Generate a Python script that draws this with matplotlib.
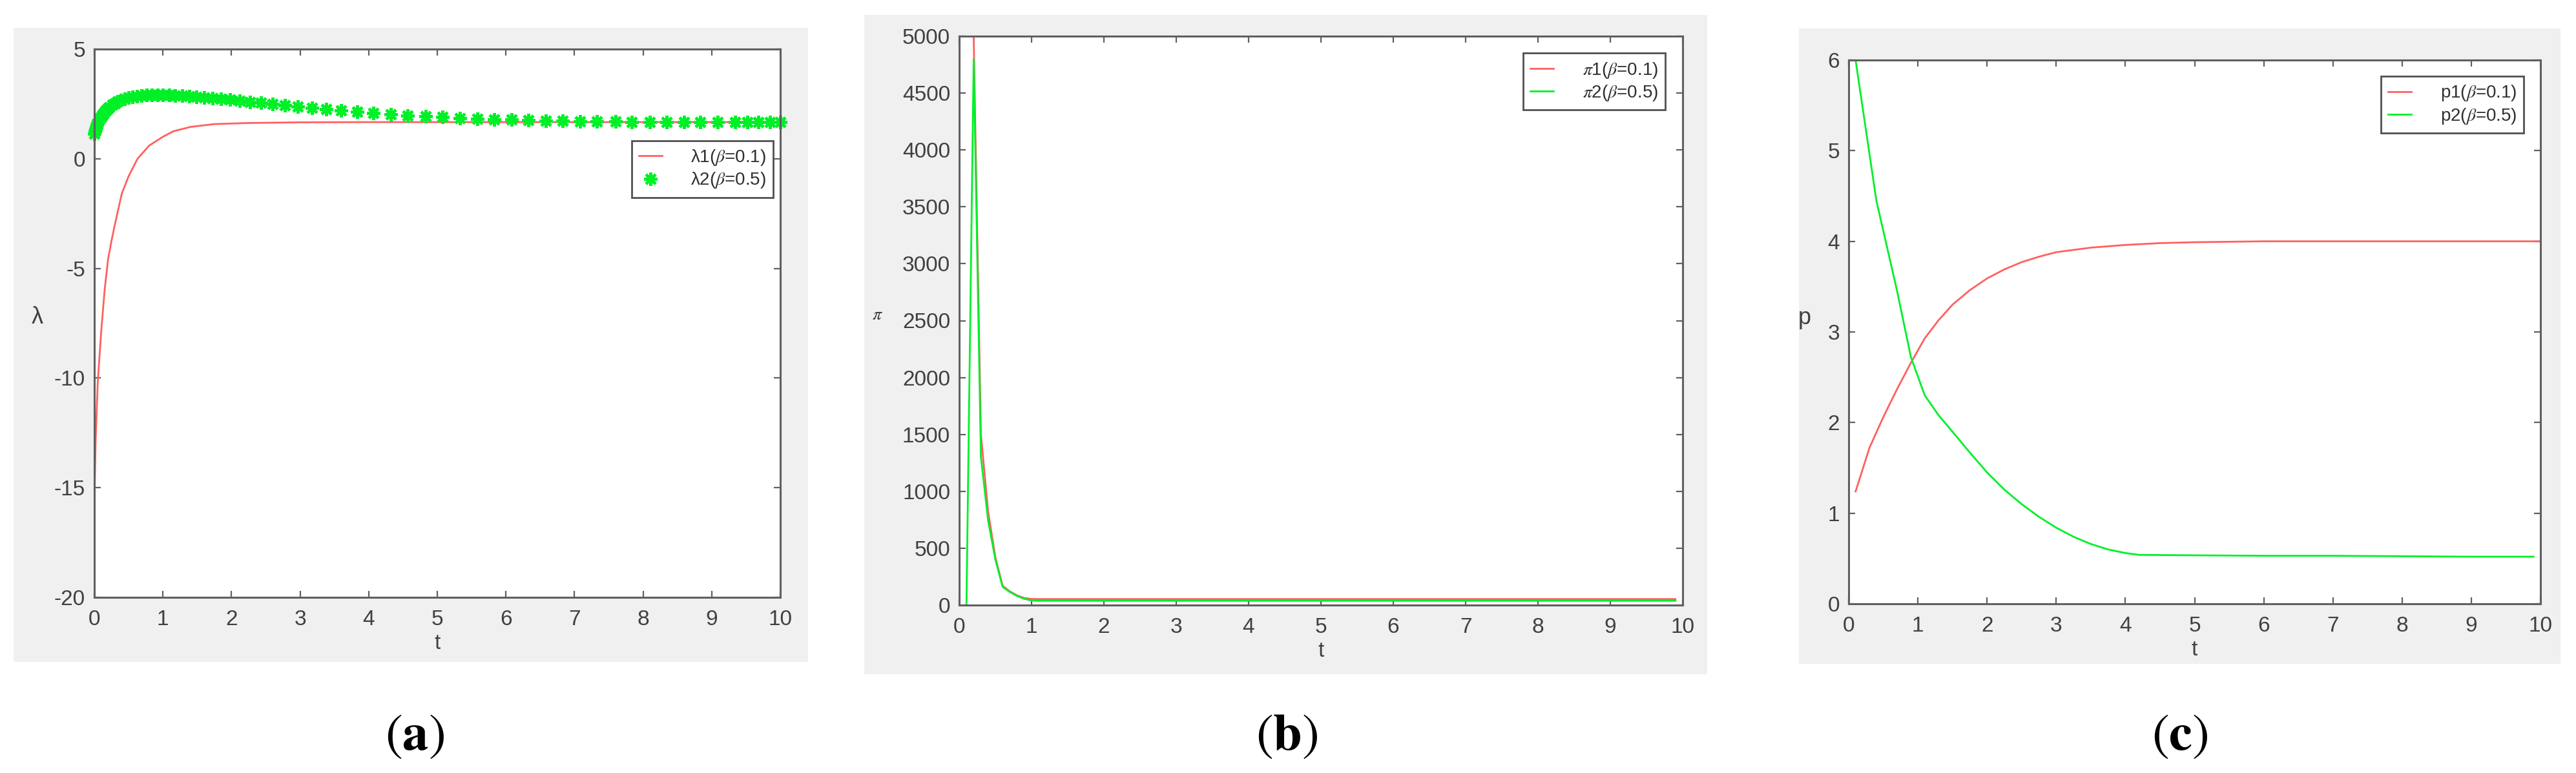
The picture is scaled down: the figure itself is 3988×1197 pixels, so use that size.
import matplotlib
matplotlib.use("Agg")
import matplotlib.pyplot as plt
from matplotlib.patches import Rectangle

plt.rcParams['font.family'] = ['Liberation Sans', 'DejaVu Sans']
plt.rcParams['mathtext.fontset'] = 'stix'
plt.rcParams['axes.unicode_minus'] = False

# (a) lambda
t_lam1 = [0, 0.005, 0.02, 0.05, 0.1, 0.15, 0.2, 0.25, 0.3, 0.4, 0.5, 0.63, 0.8, 1.0,
          1.15, 1.4, 1.75, 2.25, 3, 4, 5, 6, 7, 8, 9, 10]
lam1 = [-16.7, -15.0, -12.8, -10.2, -7.9, -6.0, -4.6, -3.75, -3.0, -1.6, -0.8, 0.0, 0.6, 1.0,
        1.25, 1.45, 1.58, 1.63, 1.66, 1.67, 1.67, 1.67, 1.67, 1.67, 1.67, 1.67]

t_lam2 = [0, 0.01, 0.02, 0.03, 0.04, 0.05, 0.07, 0.09, 0.11, 0.13, 0.16, 0.19, 0.22, 0.26,
          0.3, 0.34, 0.39, 0.44, 0.5, 0.56, 0.62, 0.69, 0.76, 0.84, 0.92, 1.0, 1.09, 1.18,
          1.28, 1.38, 1.49, 1.6, 1.72, 1.85, 1.98, 2.12, 2.27, 2.43, 2.6, 2.78, 2.97, 3.17,
          3.38, 3.6, 3.83, 4.07, 4.32, 4.57, 4.83, 5.08, 5.33, 5.58, 5.83, 6.08, 6.33, 6.58,
          6.83, 7.08, 7.33, 7.6, 7.83, 8.1, 8.34, 8.6, 8.83, 9.09, 9.34, 9.52, 9.68, 9.85, 10.0]
lam2 = [1.15, 1.25, 1.35, 1.45, 1.55, 1.62, 1.75, 1.87, 1.97, 2.06, 2.17, 2.27, 2.36, 2.46,
        2.54, 2.61, 2.68, 2.74, 2.79, 2.83, 2.86, 2.88, 2.9, 2.91, 2.91, 2.91, 2.9, 2.89,
        2.87, 2.85, 2.83, 2.8, 2.77, 2.73, 2.69, 2.65, 2.6, 2.55, 2.49, 2.44, 2.38, 2.32,
        2.26, 2.2, 2.14, 2.08, 2.03, 1.98, 1.94, 1.9, 1.86, 1.83, 1.8, 1.78, 1.76, 1.74,
        1.72, 1.71, 1.7, 1.69, 1.68, 1.68, 1.67, 1.67, 1.67, 1.66, 1.66, 1.66, 1.66, 1.66, 1.66]

# (b) pi
t_pi1 = [0.2, 0.3, 0.4, 0.5, 0.6, 0.7, 0.8, 0.9, 1.0, 1.1, 2, 3, 4, 5, 6, 7, 8, 9, 9.9]
pi1 = [5000, 1500, 820, 420, 170, 120, 85, 62, 54, 53, 53, 53, 53, 53, 53, 53, 53, 53, 53]
t_pi2 = [0.1, 0.2, 0.3, 0.4, 0.5, 0.6, 0.7, 0.8, 0.9, 1.0, 1.1, 2, 3, 4, 5, 6, 7, 8, 9, 9.9]
pi2 = [0, 4800, 1300, 740, 400, 160, 115, 80, 55, 40, 38, 38, 38, 38, 38, 38, 38, 38, 38, 38]

# (c) p
t_p1 = [0.1, 0.3, 0.5, 0.7, 0.9, 1.1, 1.3, 1.5, 1.75, 2, 2.25, 2.5, 2.75, 3, 3.5, 4, 4.5, 5,
        6, 7, 8, 9, 10]
p1 = [1.24, 1.72, 2.06, 2.37, 2.66, 2.93, 3.13, 3.3, 3.46, 3.59, 3.69, 3.77, 3.83, 3.88,
      3.93, 3.96, 3.98, 3.99, 4.0, 4.0, 4.0, 4.0, 4.0]
t_p2 = [0.1, 0.4, 0.7, 0.9, 1.1, 1.3, 1.5, 1.75, 2.0, 2.25, 2.5, 2.75, 3.0, 3.25, 3.5, 3.75,
        4.0, 4.2, 5, 6, 7, 8, 9, 9.9]
p2 = [6.0, 4.45, 3.45, 2.72, 2.3, 2.08, 1.9, 1.67, 1.45, 1.26, 1.1, 0.96, 0.84, 0.74, 0.66,
      0.6, 0.56, 0.54, 0.535, 0.53, 0.53, 0.525, 0.52, 0.52]

RED = '#ff6060'
GREEN = '#00f028'
GRAY_BG = '#f0f0f0'
W, H = 3988, 1197

fig = plt.figure(figsize=(W / 100, H / 100), dpi=100)


def px_rect(x0, y0, x1, y1):
    # pixel box (top-left origin) -> figure fraction
    return [x0 / W, 1 - y1 / H, (x1 - x0) / W, (y1 - y0) / H]


# gray MATLAB figure backgrounds
for box in [(21, 43, 1251, 1025), (1338, 23, 2643, 1044), (2785, 44, 3964, 1028)]:
    l, b, w, h = px_rect(*box)
    fig.add_artist(Rectangle((l, b), w, h, transform=fig.transFigure,
                             facecolor=GRAY_BG, edgecolor='none', zorder=0))

ax_a = fig.add_axes(px_rect(146, 76, 1208, 925))
ax_b = fig.add_axes(px_rect(1485, 56, 2605, 937))
ax_c = fig.add_axes(px_rect(2862, 93, 3933, 935))


def style(ax):
    ax.set_facecolor('white')
    for s in ax.spines.values():
        s.set_color('#606060')
        s.set_linewidth(2.2)
    ax.tick_params(direction='in', length=7, width=1.6, color='#606060',
                   labelcolor='#404040', labelsize=24, top=True, right=True)
    ax.tick_params(axis='x', pad=14)
    ax.tick_params(axis='y', pad=10)
    ax.set_xlim(0, 10)
    ax.set_xticks(range(11))
    ax.set_xlabel('t', fontsize=24, color='#404040', labelpad=4)


def legend(ax, anchor):
    lg = ax.legend(loc='upper right', bbox_to_anchor=anchor, fontsize=20, frameon=True,
                   fancybox=False, framealpha=1, edgecolor='#505050', handlelength=1.3,
                   handletextpad=1.6, borderpad=0.4, labelspacing=0.2, numpoints=1,
                   borderaxespad=0)
    lg.get_frame().set_linewidth(2)
    for txt in lg.get_texts():
        txt.set_color('#303030')
    return lg


# (a)
style(ax_a)
ax_a.plot(t_lam1, lam1, color=RED, lw=2, label='\u03bb1($\\beta$=0.1)')
ax_a.plot(t_lam2, lam2, linestyle='none', marker=(8, 2, 0), markersize=15, mew=3.2,
          color=GREEN, mec=GREEN, label='\u03bb2($\\beta$=0.5)', clip_on=False)
ax_a.set_ylim(-20, 5)
ax_a.set_yticks([-20, -15, -10, -5, 0, 5])
ax_a.set_ylabel('\u03bb', fontsize=26, color='#404040', rotation=0)
ax_a.yaxis.set_label_coords(-0.083, 0.49)
legend(ax_a, (0.99, 0.833))

# (b)
style(ax_b)
ax_b.plot(t_pi1, pi1, color=RED, lw=2, label='$\\pi$1($\\beta$=0.1)')
ax_b.plot(t_pi2, pi2, color=GREEN, lw=2, label='$\\pi$2($\\beta$=0.5)')
ax_b.set_ylim(0, 5000)
ax_b.set_yticks(range(0, 5001, 500))
ax_b.set_ylabel('$\\pi$', fontsize=20, color='#404040', rotation=0)
ax_b.yaxis.set_label_coords(-0.113, 0.495)
legend(ax_b, (0.976, 0.97))

# (c)
style(ax_c)
ax_c.plot(t_p1, p1, color=RED, lw=2, label='p1($\\beta$=0.1)')
ax_c.plot(t_p2, p2, color=GREEN, lw=2, label='p2($\\beta$=0.5)')
ax_c.set_ylim(0, 6)
ax_c.set_yticks(range(7))
ax_c.set_ylabel('p', fontsize=26, color='#404040', rotation=0)
ax_c.yaxis.set_label_coords(-0.064, 0.505)
legend(ax_c, (0.976, 0.97))

# panel captions
for x, lab in [(642, 'a'), (1992, 'b'), (3375, 'c')]:
    fig.text(x / W, 1 - 1140 / H, '$(\\mathbf{%s})$' % lab, fontsize=58,
             ha='center', va='center')

fig.savefig('out.png', dpi=100, facecolor='white')
